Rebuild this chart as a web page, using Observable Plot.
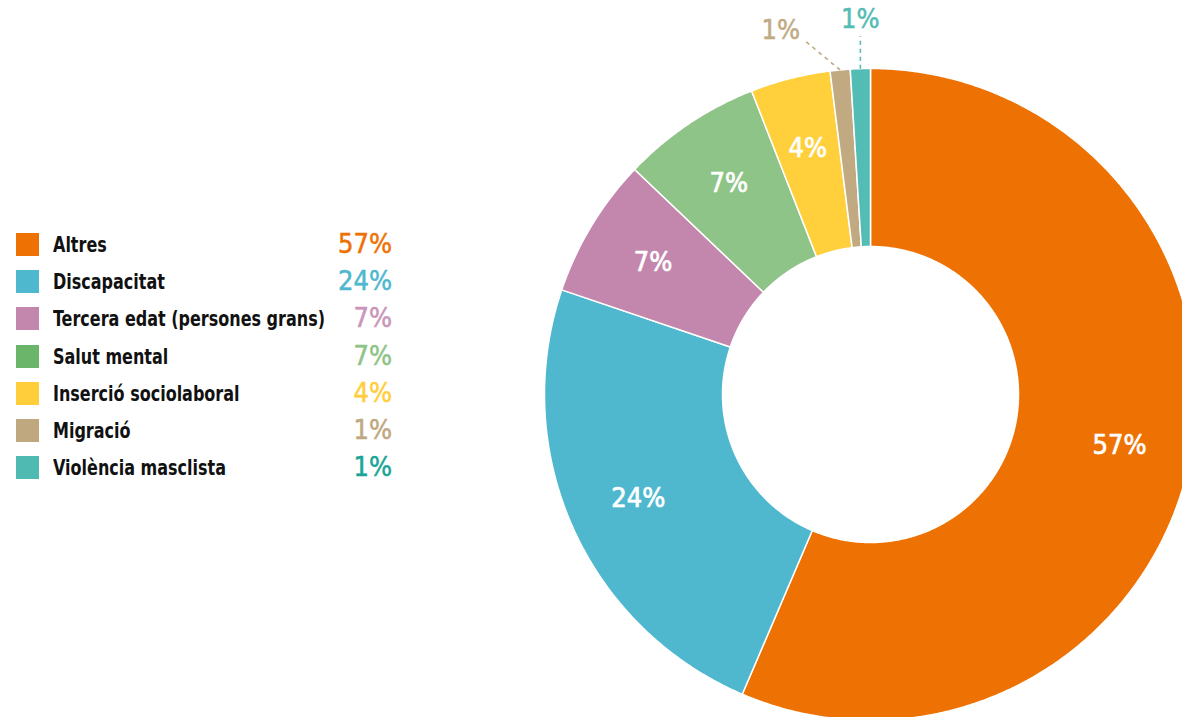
<!DOCTYPE html>
<html><head><meta charset="utf-8">
<script src="https://cdn.jsdelivr.net/npm/d3@7"></script>
<script src="https://cdn.jsdelivr.net/npm/@observablehq/plot@0.6"></script>
<style>
html,body{margin:0;padding:0;background:#fff;overflow:hidden;}
#wrap{position:relative;width:1182px;height:717px;}
#chart svg{display:block;}
.row{position:absolute;left:0;width:400px;height:30px;font-family:"DejaVu Sans",sans-serif;font-stretch:condensed;}
.sw{position:absolute;left:16px;top:3px;width:23px;height:23px;}
.lab{position:absolute;left:53px;top:0;line-height:30px;font-size:22px;font-weight:bold;color:#111;white-space:nowrap;transform-origin:0 50%;}
.pct{position:absolute;right:8px;top:-1px;line-height:30px;font-size:27px;font-weight:normal;white-space:nowrap;-webkit-text-stroke:0.5px currentColor;}
</style></head><body>
<div id="wrap"><div id="chart"></div><div id="legend"></div></div>
<script>
const categories = ["Altres","Discapacitat","Tercera edat (persones grans)","Salut mental","Inserció sociolaboral","Migració","Violència masclista"];
const percents = [57, 24, 7, 7, 4, 1, 1];
const sliceColors = ["#EE7203","#4FB8CF","#C387AE","#8EC487","#FFD03C","#C1AA82","#53BCB4"];
const swatchColors = ["#EE7203","#4DB8CE","#C387AE","#6BB56A","#FFCE3A","#BFA77F","#4FBAB2"];
const pctColors = ["#EE7203","#4DB8CE","#C995B8","#8EC487","#FFCE3A","#BFA77F","#1AA596"];

const FONT = '"DejaVu Sans",sans-serif';
const inner = 148 / 326;
const total = d3.sum(percents);
const rad = a => a * Math.PI / 180;

let acc = 0;
const slices = percents.map((v, i) => {
  const a0 = acc / total * 360; acc += v; const a1 = acc / total * 360;
  return {name: categories[i], v, a0, a1, mid: (a0 + a1) / 2, i};
});
const pts = [];
for (const s of slices) {
  const n = Math.max(4, Math.ceil((s.a1 - s.a0) / 0.5));
  const ring = [];
  for (let k = 0; k <= n; k++) { const a = s.a0 + (s.a1 - s.a0) * k / n; ring.push([Math.sin(rad(a)), Math.cos(rad(a))]); }
  for (let k = n; k >= 0; k--) { const a = s.a0 + (s.a1 - s.a0) * k / n; ring.push([inner * Math.sin(rad(a)), inner * Math.cos(rad(a))]); }
  ring.push(ring[0]);
  for (const [x, y] of ring) pts.push({name: s.name, x, y});
}
const big = slices.filter(s => s.v >= 2).map(s => ({
  text: s.v + "%", x: 0.78 * Math.sin(rad(s.mid)), y: 0.78 * Math.cos(rad(s.mid))
}));
const small = slices.filter(s => s.v < 2);
const leaders = [], smallLabels = [];
small.forEach((s, j) => {
  const shift = (small.length - 1 - j);
  const aEnd = s.mid - 5 * shift, aTxt = s.mid - 8.5 * shift;
  const x1 = Math.sin(rad(s.mid)), y1 = Math.cos(rad(s.mid));
  const x2 = shift ? 1.1 * Math.sin(rad(aEnd)) : x1, y2 = 1.1 * Math.cos(rad(aEnd));
  leaders.push({name: s.name, x1, y1, x2, y2});
  smallLabels.push({name: s.name, text: s.v + "%", x: shift ? 1.15 * Math.sin(rad(aTxt)) : x1, y: 1.15 * Math.cos(rad(aTxt))});
});

const chart = Plot.plot({
  width: 1182, height: 717,
  x: {domain: [-1, 1], range: [544, 1196], axis: null},
  y: {domain: [-1, 1], range: [720, 68], axis: null},
  color: {domain: categories, range: sliceColors},
  style: {fontFamily: FONT, fontStretch: "condensed", background: "white", overflow: "hidden"},
  marks: [
    Plot.line(pts, {x: "x", y: "y", z: "name", fill: "name", stroke: "white", strokeWidth: 1.5, strokeLinejoin: "round", curve: "linear"}),
    Plot.link(leaders, {x1: "x1", y1: "y1", x2: "x2", y2: "y2", stroke: "name", strokeWidth: 1.6, strokeDasharray: "4,4"}),
    Plot.text(big, {x: "x", y: "y", text: "text", fill: "white", stroke: "white", strokeWidth: 0.7, fontSize: 27, fontFamily: FONT}),
    Plot.text(smallLabels, {x: "x", y: "y", text: "text", fill: "name", stroke: "name", strokeWidth: 0.5, fontSize: 27, fontFamily: FONT})
  ]
});
document.getElementById("chart").appendChild(chart);

const leg = document.getElementById("legend");
categories.forEach((c, i) => {
  const row = document.createElement("div");
  row.className = "row";
  row.style.top = (230 + i * 37.2) + "px";
  row.innerHTML = `<div class="sw" style="background:${swatchColors[i]}"></div><div class="lab">${c}</div><div class="pct" style="color:${pctColors[i]}">${percents[i]}%</div>`;
  leg.appendChild(row);
});
const labs = [...document.querySelectorAll(".lab")];
const longest = Math.max(...labs.map(l => l.getBoundingClientRect().width));
const sx = Math.min(1, 272 / longest);
labs.forEach(l => l.style.transform = `scaleX(${sx})`);
</script>
</body></html>
